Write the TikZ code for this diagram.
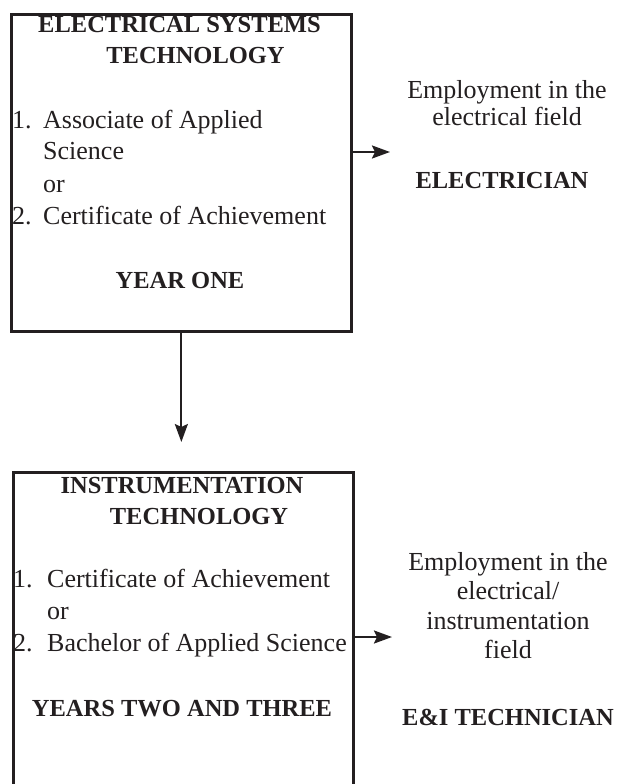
\documentclass[tikz,border=0pt]{standalone}
\usepackage{fontspec}
\setmainfont{Liberation Serif}
\usetikzlibrary{arrows.meta,positioning}
\definecolor{ink}{HTML}{231F20}
\tikzset{
    box/.style={draw=ink,line width=2.7pt,minimum width=340pt,anchor=north west,inner sep=0pt},
    head/.style={font=\bfseries\fontsize{24.5}{31}\selectfont,text=ink,inner sep=0pt,anchor=base},
    list/.style={font=\fontsize{26}{32}\selectfont,text=ink,inner sep=0pt,anchor=base west},
    job/.style={font=\fontsize{26}{#1}\selectfont,text=ink,inner sep=0pt,anchor=base},
    arr/.style={-{Stealth[length=18pt,width=13pt,inset=3pt]},line width=2.2pt,draw=ink}
}

\begin{document}
\begin{tikzpicture}[x=1pt,y=-1pt]

    \clip (0,0) rectangle (617,784);

    % year one
    \node[box,minimum height=317pt] (elec box) at (10,13) {};
    \node[head] (elec title) at (179.5,33)
        {\begin{tabular}[t]{@{}c@{}}ELECTRICAL SYSTEMS\\\hspace*{32pt}TECHNOLOGY\end{tabular}};
    \node[list] (elec list) at (12,128)
        {\begin{tabular}[t]{@{}p{31pt}@{}l@{}}
            1. & Associate of Applied\\
               & Science\\
               & or\\
            2. & Certificate of Achievement
        \end{tabular}};
    \node[head] (elec year) at (180,288) {YEAR ONE};

    \node[job=27] (elec job) at (507,99)
        {\begin{tabular}[t]{@{}c@{}}Employment in the\\electrical field\end{tabular}};
    \node[head] (elec name) at (502,188) {ELECTRICIAN};
    \coordinate (elec tip) at (390,152);

    % years two and three
    \node[box,minimum height=340pt] (inst box) at (12,471) {};
    \node[head] (inst title) at (182,493)
        {\begin{tabular}[t]{@{}c@{}}INSTRUMENTATION\\\hspace*{34pt}TECHNOLOGY\end{tabular}};
    \node[list] (inst list) at (13,587)
        {\begin{tabular}[t]{@{}p{34pt}@{}l@{}}
            1. & Certificate of Achievement\\
               & or\\
            2. & Bachelor of Applied Science
        \end{tabular}};
    \node[head] (inst year) at (182,716) {YEARS TWO AND THREE};

    \node[job=29.5] (inst job) at (508,570)
        {\begin{tabular}[t]{@{}c@{}}Employment in the\\electrical/\\instrumentation\\field\end{tabular}};
    \node[head] (inst name) at (508,725) {E\&I TECHNICIAN};
    \coordinate (inst tip) at (392,637);

    % arrows
    \draw[arr] (elec box.east |- elec tip) -- (elec tip);
    \draw[arr,shorten >=29pt] (elec box.south) -- (elec box.south |- inst box.north);
    \draw[arr] (inst box.east |- inst tip) -- (inst tip);

\end{tikzpicture}
\end{document}
